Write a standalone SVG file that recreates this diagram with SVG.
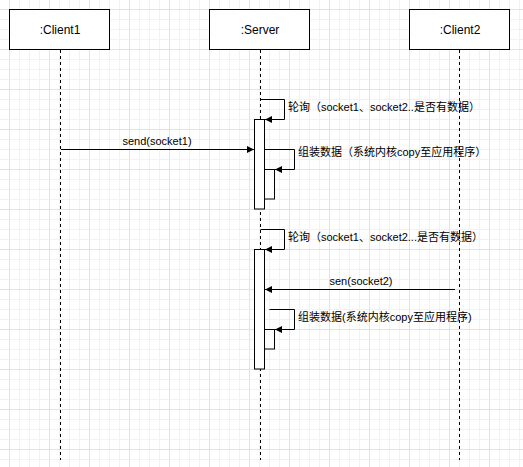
<svg xmlns="http://www.w3.org/2000/svg" width="523" height="467" viewBox="0 0 523 467">
  <style>
    .box { fill: #ffffff; stroke: #000000; stroke-width: 1; }
    .act { fill: #ffffff; stroke: #000000; stroke-width: 1; }
    .life { stroke: #000000; stroke-width: 1; stroke-dasharray: 3 3; fill: none; }
    .msg { stroke: #000000; stroke-width: 1; fill: none; marker-end: url(#arrow); }
    .title { font-family: "Liberation Sans", "Noto Sans CJK SC", sans-serif; font-size: 12px; fill: #000000; text-anchor: middle; dominant-baseline: central; }
    .lbl { font-family: "Liberation Sans", "Noto Sans CJK SC", sans-serif; font-size: 11px; fill: #000000; dominant-baseline: central; }
  </style>
  <defs>
    <pattern id="minor" x="9" y="9" width="10" height="10" patternUnits="userSpaceOnUse">
      <path d="M0.5 0 V10 M0 0.5 H10" stroke="#f2f2f2" stroke-width="1" fill="none"/>
    </pattern>
    <pattern id="major" x="9" y="9" width="40" height="40" patternUnits="userSpaceOnUse">
      <path d="M0.5 0 V40 M0 0.5 H40" stroke="#e3e3e3" stroke-width="1" fill="none"/>
    </pattern>
    <marker id="arrow" viewBox="0 0 10 10" refX="10" refY="5" markerWidth="8" markerHeight="7" markerUnits="userSpaceOnUse" orient="auto">
      <path d="M0 0 L10 5 L0 10 Z" fill="#000000"/>
    </marker>
  </defs>

  <rect width="523" height="467" fill="#ffffff"/>
  <rect width="523" height="467" fill="url(#minor)"/>
  <rect width="523" height="467" fill="url(#major)"/>

  <g id="client1">
    <line class="life" x1="60.5" y1="50" x2="60.5" y2="460"/>
    <rect class="box" x="9.5" y="9.5" width="100" height="40"/>
    <text class="title" x="60" y="30">:Client1</text>
  </g>

  <g id="server">
    <line class="life" x1="260.5" y1="50" x2="260.5" y2="460"/>
    <rect class="box" x="209.5" y="9.5" width="100" height="40"/>
    <text class="title" x="260" y="30">:Server</text>
  </g>

  <g id="client2">
    <line class="life" x1="459.5" y1="50" x2="459.5" y2="460"/>
    <rect class="box" x="409.5" y="9.5" width="100" height="40"/>
    <text class="title" x="460" y="30">:Client2</text>
  </g>

  <g id="activation1">
    <rect class="act" x="254.5" y="119.5" width="10" height="89.5"/>
  </g>
  <g id="activation1-nested">
    <rect class="act" x="264.5" y="169.5" width="10" height="29.5"/>
  </g>
  <g id="activation2">
    <rect class="act" x="254.5" y="249.5" width="10" height="119.5"/>
  </g>
  <g id="activation2-nested">
    <rect class="act" x="264.5" y="329.5" width="10" height="19.5"/>
  </g>

  <g id="connectors">
    <path class="msg" d="M260.5 99.5 H284.5 V119.5 H265"/>
    <path class="msg" d="M61 149.5 H254"/>
    <path class="msg" d="M265 149.5 H294.5 V169.5 H275"/>
    <path class="msg" d="M260.5 229.5 H284.5 V249.5 H265"/>
    <path class="msg" d="M455 289.5 H265"/>
    <path class="msg" d="M269.5 309.5 H294.5 V329.5 H275"/>
  </g>

  <g id="labels">
    <text class="lbl" x="288" y="107">轮询（socket1、socket2..是否有数据）</text>
    <text class="lbl" x="157" y="141" text-anchor="middle">send(socket1)</text>
    <text class="lbl" x="298" y="152">组装数据（系统内核copy至应用程序）</text>
    <text class="lbl" x="288" y="237">轮询（socket1、socket2...是否有数据）</text>
    <text class="lbl" x="361" y="281" text-anchor="middle">sen(socket2)</text>
    <text class="lbl" x="298" y="317">组装数据(系统内核copy至应用程序)</text>
  </g>
</svg>
